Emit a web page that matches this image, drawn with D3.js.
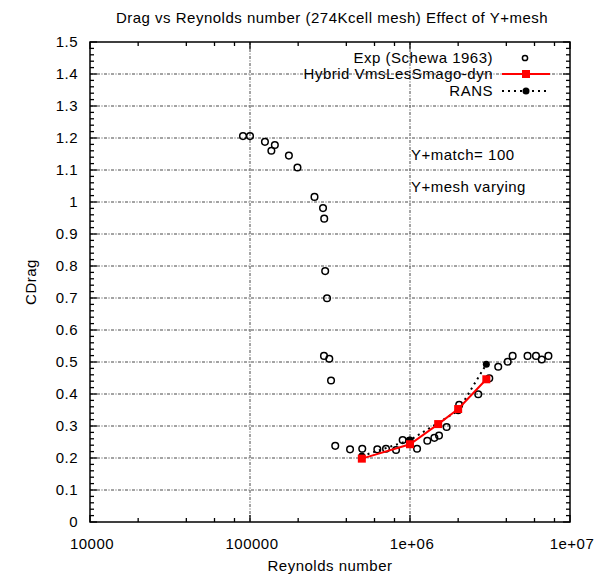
<!DOCTYPE html>
<html><head><meta charset="utf-8">
<script src="https://cdn.jsdelivr.net/npm/d3@7"></script>
<style>body{margin:0;background:#fff}svg{display:block}text{font-family:"Liberation Sans",Arial,sans-serif;letter-spacing:0.5px}</style>
</head><body><div id="chart"></div>
<script>
const expRe = [90400,100000,124000,136000,143000,175000,198000,253000,286000,291000,295000,303000,290000,313000,321000,341000,422000,503000,625000,708000,818000,900000,991000,1107000,1283000,1420000,1518000,1694000,2030000,2670000,3130000,3560000,4080000,4380000,5430000,6130000,6660000,7330000];
const expCd = [1.206,1.206,1.188,1.160,1.178,1.145,1.108,1.016,0.981,0.948,0.784,0.699,0.519,0.510,0.442,0.238,0.227,0.229,0.227,0.229,0.225,0.256,0.254,0.229,0.254,0.263,0.270,0.297,0.366,0.399,0.449,0.485,0.501,0.519,0.519,0.519,0.508,0.519];
const hybRe = [500000,1000000,1500000,2000000,3000000];
const hybCd = [0.198,0.243,0.306,0.353,0.446];
const ransRe = [500000,1000000,2000000,3000000];
const ransCd = [0.206,0.256,0.348,0.493];
const yTicks = [0,0.1,0.2,0.3,0.4,0.5,0.6,0.7,0.8,0.9,1,1.1,1.2,1.3,1.4,1.5];
const yTickLabels = ["0","0.1","0.2","0.3","0.4","0.5","0.6","0.7","0.8","0.9","1","1.1","1.2","1.3","1.4","1.5"];
const xTicks = [1e4,1e5,1e6,1e7];
const xTickLabels = ["10000","100000","1e+06","1e+07"];
const legendLabels = ["Exp (Schewa 1963)","Hybrid VmsLesSmago-dyn","RANS"];
const titleText = "Drag vs Reynolds number (274Kcell mesh) Effect of Y+mesh";
const notes = ["Y+match= 100","Y+mesh varying"];

const W=594,H=576, L=90,R=570,T=42,B=522;
const FS=15;
const svg=d3.select("#chart").append("svg").attr("width",W).attr("height",H);
const x=d3.scaleLog().domain([1e4,1e7]).range([L,R]);
const y=d3.scaleLinear().domain([0,1.5]).range([B,T]);
const dash="3,1.5,1,1.5";
const g=svg.append("g");
// grid
g.selectAll(".hg").data(yTicks.filter(v=>v>0&&v<1.5)).join("line")
 .attr("x1",L).attr("x2",R).attr("y1",d=>y(d)).attr("y2",d=>y(d))
 .attr("stroke","#333").attr("stroke-width",0.9).attr("stroke-dasharray",dash);
g.selectAll(".vg").data([1e5,1e6]).join("line")
 .attr("x1",d=>x(d)).attr("x2",d=>x(d)).attr("y1",T).attr("y2",B)
 .attr("stroke","#333").attr("stroke-width",0.9).attr("stroke-dasharray",dash);
// minor ticks
const minorX=[]; [1e4,1e5,1e6].forEach(b=>[2,4,6,8].forEach(m=>minorX.push(b*m)));
const minorY=d3.range(0,1.5001,0.02).filter(v=>Math.abs(v*10-Math.round(v*10))>1e-6);
const tk=svg.append("g").attr("stroke","#000").attr("stroke-width",1.3);
minorX.forEach(v=>{tk.append("line").attr("x1",x(v)).attr("x2",x(v)).attr("y1",B).attr("y2",B-4);
 tk.append("line").attr("x1",x(v)).attr("x2",x(v)).attr("y1",T).attr("y2",T+4);});
xTicks.forEach(v=>{tk.append("line").attr("x1",x(v)).attr("x2",x(v)).attr("y1",B).attr("y2",B-7);
 tk.append("line").attr("x1",x(v)).attr("x2",x(v)).attr("y1",T).attr("y2",T+7);});
minorY.forEach(v=>{tk.append("line").attr("x1",L).attr("x2",L+4).attr("y1",y(v)).attr("y2",y(v));
 tk.append("line").attr("x1",R).attr("x2",R-4).attr("y1",y(v)).attr("y2",y(v));});
yTicks.forEach(v=>{tk.append("line").attr("x1",L).attr("x2",L+7).attr("y1",y(v)).attr("y2",y(v));
 tk.append("line").attr("x1",R).attr("x2",R-7).attr("y1",y(v)).attr("y2",y(v));});
svg.append("rect").attr("x",L).attr("y",T).attr("width",R-L).attr("height",B-T)
 .attr("fill","none").attr("stroke","#000").attr("stroke-width",1.5);
// tick labels
svg.selectAll(".yl").data(yTicks).join("text").attr("x",L-12).attr("y",(d)=>y(d)).attr("dy","0.35em")
 .attr("text-anchor","end").attr("font-size",FS).text((d,i)=>yTickLabels[i]);
svg.selectAll(".xl").data(xTicks).join("text").attr("x",d=>x(d)+2).attr("y",B+22).attr("dy","0.35em")
 .attr("text-anchor","middle").attr("font-size",FS).text((d,i)=>xTickLabels[i]);
svg.append("text").attr("x",330).attr("y",566).attr("dy","0.35em").attr("text-anchor","middle").attr("font-size",FS).text("Reynolds number");
svg.append("text").attr("transform","translate(31,282) rotate(-90)").attr("dy","0.35em").attr("text-anchor","middle").attr("font-size",FS).text("CDrag");
svg.append("text").attr("x",332).attr("y",18).attr("dy","0.35em").attr("text-anchor","middle").attr("font-size",FS).text(titleText);
svg.selectAll(".note").data(notes).join("text").attr("x",411).attr("y",(d,i)=>155+i*32).attr("dy","0.35em").attr("font-size",FS).text(d=>d);
// series
const line=d3.line().x(d=>x(d[0])).y(d=>y(d[1]));
const ransPts=ransRe.map((r,i)=>[r,ransCd[i]]);
const hybPts=hybRe.map((r,i)=>[r,hybCd[i]]);
svg.append("path").datum(ransPts).attr("d",line).attr("fill","none").attr("stroke","#000").attr("stroke-width",2).attr("stroke-dasharray","2,4");
svg.selectAll(".exp").data(expRe.map((r,i)=>[r,expCd[i]])).join("circle")
 .attr("cx",d=>x(d[0])).attr("cy",d=>y(d[1])).attr("r",3.3).attr("fill","none").attr("stroke","#000").attr("stroke-width",1.5);
svg.selectAll(".rd").data(ransPts).join("circle").attr("cx",d=>x(d[0])).attr("cy",d=>y(d[1])).attr("r",3.5).attr("fill","#000");
svg.append("path").datum(hybPts).attr("d",line).attr("fill","none").attr("stroke","#f00").attr("stroke-width",2);
svg.selectAll(".hs").data(hybPts).join("rect").attr("x",d=>x(d[0])-4).attr("y",d=>y(d[1])-4).attr("width",8).attr("height",8).attr("fill","#f00");
// legend
const ly=[58,74,91];
svg.selectAll(".lg").data(legendLabels).join("text").attr("x",493).attr("y",(d,i)=>ly[i]).attr("dy","0.35em").attr("text-anchor","end").attr("font-size",FS).text(d=>d);
svg.append("circle").attr("cx",525).attr("cy",ly[0]).attr("r",2.6).attr("fill","none").attr("stroke","#000").attr("stroke-width",1.5);
svg.append("line").attr("x1",502).attr("x2",550).attr("y1",ly[1]).attr("y2",ly[1]).attr("stroke","#f00").attr("stroke-width",2);
svg.append("rect").attr("x",522).attr("y",ly[1]-4).attr("width",8).attr("height",8).attr("fill","#f00");
svg.append("line").attr("x1",502).attr("x2",550).attr("y1",ly[2]).attr("y2",ly[2]).attr("stroke","#000").attr("stroke-width",2).attr("stroke-dasharray","2,4");
svg.append("circle").attr("cx",526).attr("cy",ly[2]).attr("r",3.5).attr("fill","#000");
</script></body></html>
